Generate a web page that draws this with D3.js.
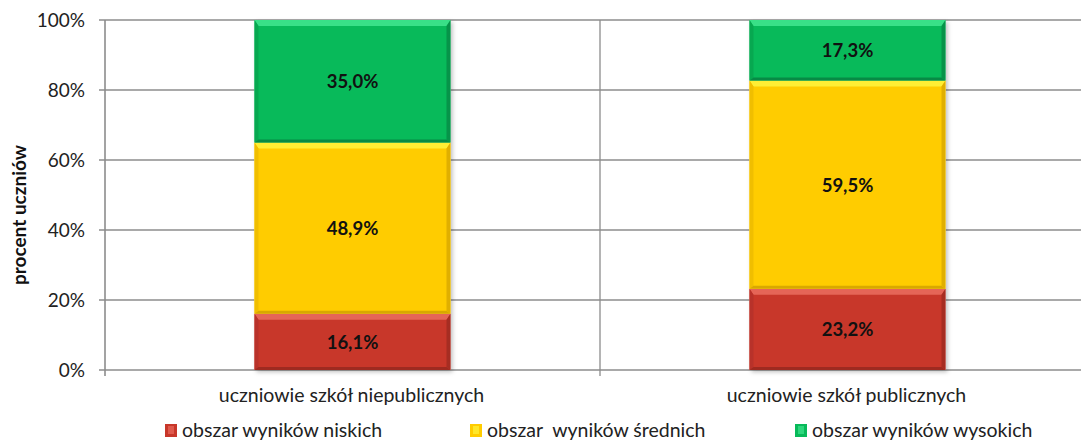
<!DOCTYPE html>
<html><head><meta charset="utf-8">
<script src="https://cdn.jsdelivr.net/npm/d3@7"></script>
<style>body{margin:0;background:#fff}svg{display:block}text{font-family:Lato,"Open Sans",sans-serif}</style>
</head><body>
<svg id="c" width="1081" height="443"></svg>
<script>
const categories = ["uczniowie szkół niepublicznych", "uczniowie szkół publicznych"];
const seriesNames = ["obszar wyników niskich", "obszar  wyników średnich", "obszar wyników wysokich"];
const low = [16.1, 23.2];
const mid = [48.9, 59.5];
const high = [35.0, 17.3];
const yTicks = [0, 20, 40, 60, 80, 100];

const colors = [
  {base:"#C8372A", light:"#E86A5C", dark:"#9E2A20", side:"#B8322A"},
  {base:"#FFCC00", light:"#FFF23A", dark:"#D8A800", side:"#F0BE00"},
  {base:"#08BA5A", light:"#3FE48C", dark:"#078A45", side:"#07A850"}
];

const svg = d3.select("#c");
const L = 105, R = 1095, T = 20, B = 370;
const x = d3.scaleBand().domain(categories).range([L, R]).paddingInner(0).paddingOuter(0);
const y = d3.scaleLinear().domain([0, 100]).range([B, T]);
const bw = x.bandwidth() * 0.396;

// gridlines
svg.append("g").selectAll("line").data(yTicks).join("line")
  .attr("x1", L - 6).attr("x2", R).attr("y1", d => y(d)).attr("y2", d => y(d))
  .attr("stroke", "#8c8c8c").attr("stroke-width", 1.6);
// vertical gridlines / category ticks
const bounds = [x(categories[1]), R];
svg.append("g").selectAll("line").data(bounds).join("line")
  .attr("x1", d => d).attr("x2", d => d).attr("y1", T).attr("y2", B + 6)
  .attr("stroke", "#8c8c8c").attr("stroke-width", 1.3);
// y axis line
svg.append("line").attr("x1", L).attr("x2", L).attr("y1", T).attr("y2", B + 6)
  .attr("stroke", "#8c8c8c").attr("stroke-width", 1.6);

// tick labels
svg.append("g").selectAll("text").data(yTicks).join("text")
  .attr("x", 85).attr("y", d => y(d) + 7).attr("text-anchor", "end")
  .attr("font-size", 19).attr("fill", "#222").text(d => d + "%");

// y title
svg.append("text").attr("transform", `translate(26,${(T + B) / 2 + 20}) rotate(-90)`)
  .attr("text-anchor", "middle").attr("font-size", 19).attr("font-weight", "bold")
  .attr("fill", "#111").text("procent uczniów");

// category labels
svg.append("g").selectAll("text").data(categories).join("text")
  .attr("x", d => x(d) + x.bandwidth() / 2 - 1).attr("y", 402).attr("text-anchor", "middle")
  .attr("font-size", 19.5).attr("fill", "#222").text(d => d);

// stacked data
const rows = categories.map((c, i) => ({cat: c, v: [low[i], mid[i], high[i]]}));
const defs = svg.append("defs");
const f = defs.append("filter").attr("id", "sh").attr("x", "-10%").attr("y", "-10%").attr("width", "130%").attr("height", "130%");
f.append("feDropShadow").attr("dx", 2).attr("dy", 2).attr("stdDeviation", 2).attr("flood-color", "#000").attr("flood-opacity", 0.25);

const bars = svg.append("g");
rows.forEach(r => {
  let acc = 0;
  const x0 = x(r.cat) + (x.bandwidth() - bw) / 2, x1 = x0 + bw;
  const g = bars.append("g");
  g.append("rect").attr("x", x0).attr("y", y(100)).attr("width", bw).attr("height", y(0) - y(100))
    .attr("fill", "#fff").attr("filter", "url(#sh)");
  r.v.forEach((v, k) => {
    const yb = y(acc), yt = y(acc + v);
    acc += v;
    const c = colors[k];
    const bt = 6, bs = 4, bb = 3;
    g.append("rect").attr("x", x0).attr("y", yt).attr("width", bw).attr("height", yb - yt).attr("fill", c.base);
    g.append("polygon").attr("points", `${x0},${yt} ${x1},${yt} ${x1 - bs},${yt + bt} ${x0 + bs},${yt + bt}`).attr("fill", c.light).attr("opacity", 0.9);
    g.append("polygon").attr("points", `${x0},${yt} ${x0 + bs},${yt + bt} ${x0 + bs},${yb - bb} ${x0},${yb}`).attr("fill", c.side);
    g.append("polygon").attr("points", `${x1},${yt} ${x1 - bs},${yt + bt} ${x1 - bs},${yb - bb} ${x1},${yb}`).attr("fill", c.dark).attr("opacity", 0.8);
    g.append("polygon").attr("points", `${x0},${yb} ${x0 + bs},${yb - bb} ${x1 - bs},${yb - bb} ${x1},${yb}`).attr("fill", c.dark);
    g.append("text").attr("x", (x0 + x1) / 2).attr("y", (yt + yb) / 2 + 7).attr("text-anchor", "middle")
      .attr("font-size", 18.5).attr("font-weight", "bold").attr("fill", "#111")
      .text(v.toFixed(1).replace(".", ",") + "%");
  });
});

// legend
const legX = [165, 470, 795];
const lg = svg.append("g").selectAll("g").data(seriesNames).join("g")
  .attr("transform", (d, i) => `translate(${legX[i]},424)`);
lg.append("rect").attr("width", 12).attr("height", 13).attr("fill", (d, i) => colors[i].base);
lg.append("rect").attr("x", 3).attr("y", 2).attr("width", 6).attr("height", 8).attr("fill", (d, i) => colors[i].light).attr("opacity", 0.7);
lg.append("text").attr("x", 17).attr("y", 13).attr("font-size", 19.5).attr("fill", "#222")
  .style("white-space", "pre").text(d => d);
</script>
</body></html>
